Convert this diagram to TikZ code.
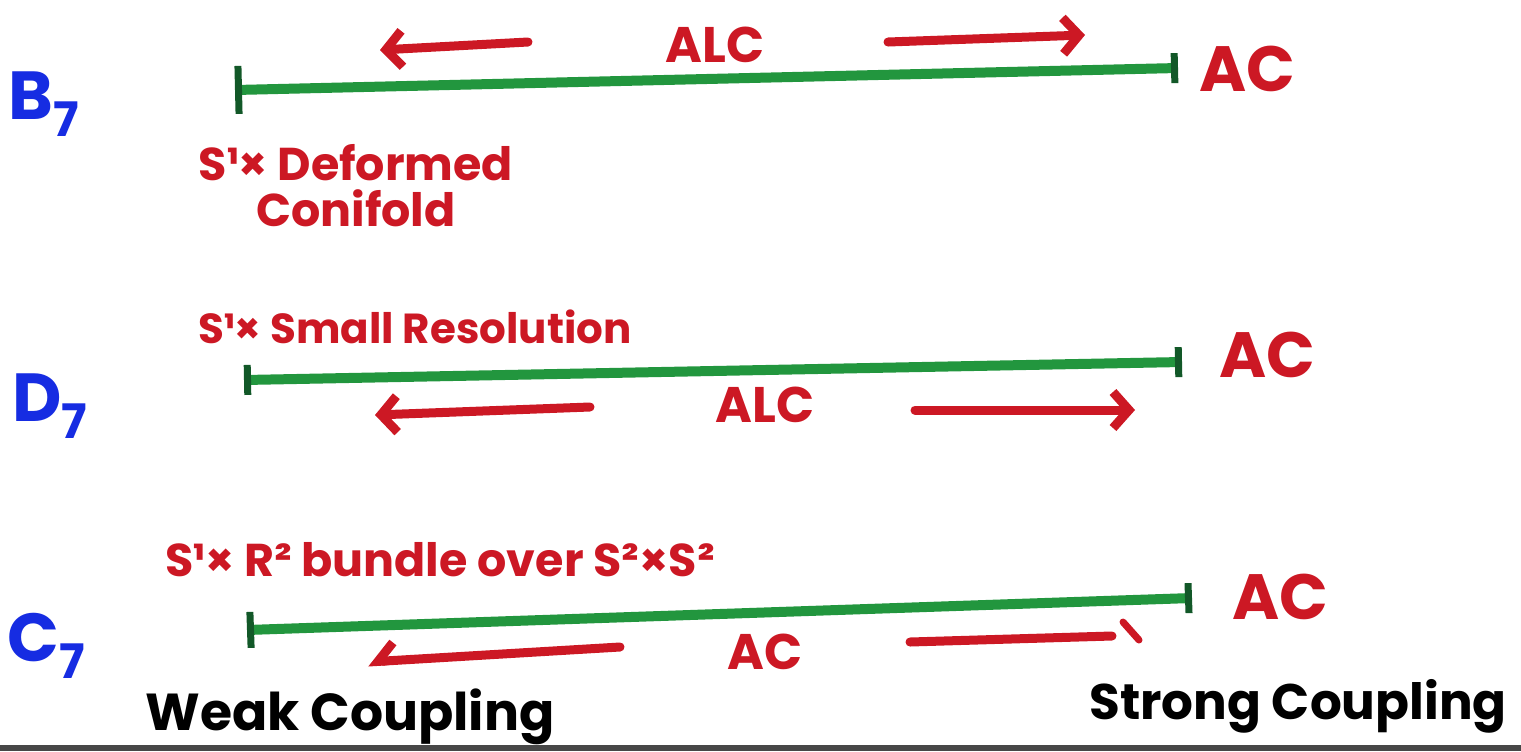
\documentclass[tikz,border=0pt]{standalone}
\usepackage{fontspec}
\setmainfont{Poppins}
\usepackage{tikz}
\usetikzlibrary{arrows.meta}

\definecolor{penred}{RGB}{204,24,36}
\definecolor{pengreen}{RGB}{34,150,62}
\definecolor{tickgreen}{RGB}{18,88,40}
\definecolor{penblue}{RGB}{22,44,226}

\begin{document}
\begin{tikzpicture}[>={Straight Barb[length=8pt,width=18pt]}, line cap=round, line join=round,
  span/.style={line width=5pt, pengreen, {Bar[width=#1,line width=3.5pt,color=tickgreen]}-{Bar[width=15pt,line width=3.5pt,color=tickgreen]}},
  span/.default=15pt,
  move/.style={->, line width=4.5pt, penred},
  group/.style={text=penblue, font=\bfseries\fontsize{34}{34}\selectfont},
  note/.style={text=penred, font=\bfseries\fontsize{#1}{#1}\selectfont, align=center, inner sep=0pt},
  regime/.style={text=black, font=\bfseries\fontsize{#1}{#1}\selectfont, inner sep=0pt}]
\useasboundingbox (0pt, 0pt) rectangle (760.5pt, -375.5pt);
% B7 row
\draw (22.0pt, -52.0pt)node[group](b7){B\textsubscript{7}};
\coordinate (b7l) at (117.5pt, -45.0pt);
\coordinate (b7r) at (589.0pt, -34.0pt);
\draw[span=24pt] (b7l) -- (b7r);
\coordinate (b7a) at (264.0pt, -21.0pt);
\coordinate (b7b) at (190.0pt, -25.0pt);
\coordinate (b7c) at (444.0pt, -21.0pt);
\coordinate (b7d) at (542.5pt, -17.5pt);
\draw[move] (b7a) -- (b7b);
\draw[move] (b7c) -- (b7d);
\draw (357.5pt, -22.5pt)node[note=25](b7alc){ALC};
\draw (623.5pt, -34.5pt)node[note=32](b7ac){AC};
\draw (178.0pt, -93.0pt)node[note=23](b7end){S¹× Deformed\\Conifold};
% D7 row
\draw (25.0pt, -203.0pt)node[group](d7){D\textsubscript{7}};
\coordinate (d7l) at (122.0pt, -190.0pt);
\coordinate (d7r) at (591.0pt, -181.0pt);
\draw[span] (d7l) -- (d7r);
\coordinate (d7a) at (295.0pt, -203.5pt);
\coordinate (d7b) at (187.5pt, -207.5pt);
\coordinate (d7c) at (457.5pt, -205.0pt);
\coordinate (d7d) at (567.5pt, -205.0pt);
\draw[move] (d7a) -- (d7b);
\draw[move] (d7c) -- (d7d);
\draw (382.5pt, -202.5pt)node[note=25](d7alc){ALC};
\draw (633.5pt, -177.5pt)node[note=32](d7ac){AC};
\draw (207.5pt, -163.5pt)node[note=21](d7end){S¹× Small Resolution};
% C7 row
\draw (23.5pt, -323.0pt)node[group](c7){C\textsubscript{7}};
\coordinate (c7l) at (123.5pt, -315.0pt);
\coordinate (c7r) at (596.0pt, -299.0pt);
\draw[span=18pt] (c7l) -- (c7r);
\coordinate (c7a) at (310.0pt, -323.5pt);
\coordinate (c7b) at (184.0pt, -331.0pt);
\coordinate (c7c) at (455.0pt, -321.0pt);
\coordinate (c7d) at (556.0pt, -318.0pt);
\coordinate (c7e) at (561.5pt, -311.0pt);
\coordinate (c7f) at (569.5pt, -320.0pt);
\draw[move, -{Straight Barb[right, length=8pt, width=18pt]}] (c7a) -- (c7b);
\draw[move, -] (c7c) -- (c7d);
\draw[move, -, line width=3.5pt] (c7e) -- (c7f);
\draw (382.5pt, -326.0pt)node[note=25](c7ac){AC};
\draw (640.0pt, -298.5pt)node[note=32](c7acr){AC};
\draw (220.0pt, -280.0pt)node[note=23](c7end){S¹× R² bundle over S²×S²};
% coupling labels
\draw (175.0pt, -358.5pt)node[regime=26](weak){Weak Coupling};
\draw (649.0pt, -353.0pt)node[regime=25](strong){Strong Coupling};
\fill[black!72] (0pt, -372.5pt) rectangle (760.5pt, -375.5pt);
\end{tikzpicture}
\end{document}
